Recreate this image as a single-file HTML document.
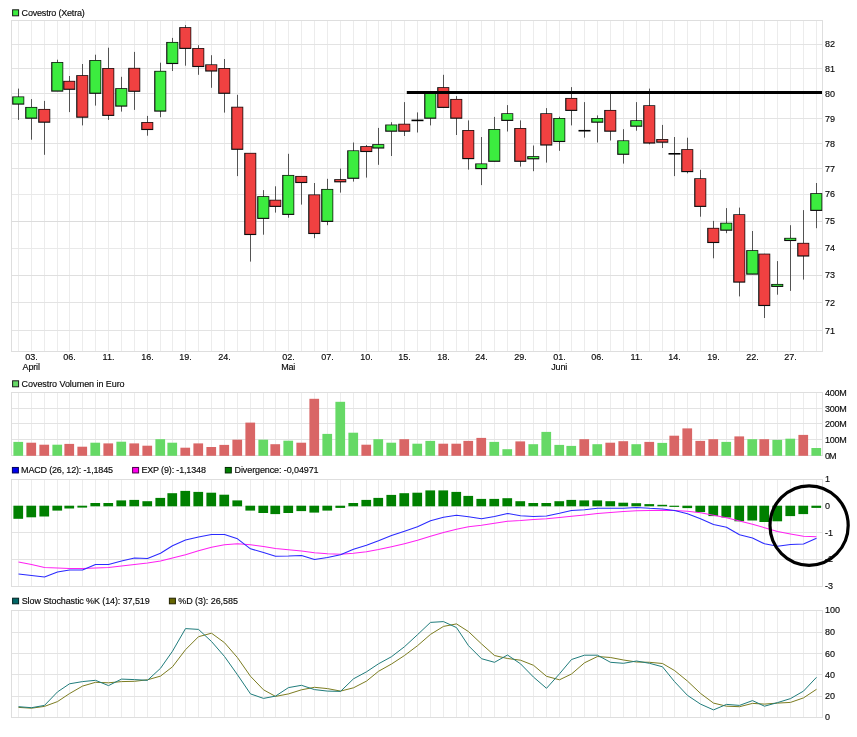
<!DOCTYPE html>
<html lang="de"><head><meta charset="utf-8"><title>Covestro (Xetra) Chart</title>
<style>html,body{margin:0;padding:0;background:#fff}body{width:857px;height:737px;overflow:hidden}svg{display:block}text{stroke:#0a0a0a;stroke-width:0.15px}</style></head>
<body>
<svg width="857" height="737" viewBox="0 0 857 737" font-family="'Liberation Sans', Arial, sans-serif" font-size="9px" fill="#0a0a0a">
<rect width="857" height="737" fill="#fff"/>
<g stroke-width="1" fill="none" shape-rendering="crispEdges">
<g stroke="#ececec">
<line x1="18.5" y1="20.5" x2="18.5" y2="351.5"/>
<line x1="31.5" y1="20.5" x2="31.5" y2="351.5"/>
<line x1="44.5" y1="20.5" x2="44.5" y2="351.5"/>
<line x1="57.5" y1="20.5" x2="57.5" y2="351.5"/>
<line x1="69.5" y1="20.5" x2="69.5" y2="351.5"/>
<line x1="82.5" y1="20.5" x2="82.5" y2="351.5"/>
<line x1="95.5" y1="20.5" x2="95.5" y2="351.5"/>
<line x1="108.5" y1="20.5" x2="108.5" y2="351.5"/>
<line x1="121.5" y1="20.5" x2="121.5" y2="351.5"/>
<line x1="134.5" y1="20.5" x2="134.5" y2="351.5"/>
<line x1="147.5" y1="20.5" x2="147.5" y2="351.5"/>
<line x1="160.5" y1="20.5" x2="160.5" y2="351.5"/>
<line x1="172.5" y1="20.5" x2="172.5" y2="351.5"/>
<line x1="185.5" y1="20.5" x2="185.5" y2="351.5"/>
<line x1="198.5" y1="20.5" x2="198.5" y2="351.5"/>
<line x1="211.5" y1="20.5" x2="211.5" y2="351.5"/>
<line x1="224.5" y1="20.5" x2="224.5" y2="351.5"/>
<line x1="237.5" y1="20.5" x2="237.5" y2="351.5"/>
<line x1="250.5" y1="20.5" x2="250.5" y2="351.5"/>
<line x1="263.5" y1="20.5" x2="263.5" y2="351.5"/>
<line x1="275.5" y1="20.5" x2="275.5" y2="351.5"/>
<line x1="288.5" y1="20.5" x2="288.5" y2="351.5"/>
<line x1="301.5" y1="20.5" x2="301.5" y2="351.5"/>
<line x1="314.5" y1="20.5" x2="314.5" y2="351.5"/>
<line x1="327.5" y1="20.5" x2="327.5" y2="351.5"/>
<line x1="340.5" y1="20.5" x2="340.5" y2="351.5"/>
<line x1="353.5" y1="20.5" x2="353.5" y2="351.5"/>
<line x1="366.5" y1="20.5" x2="366.5" y2="351.5"/>
<line x1="378.5" y1="20.5" x2="378.5" y2="351.5"/>
<line x1="391.5" y1="20.5" x2="391.5" y2="351.5"/>
<line x1="404.5" y1="20.5" x2="404.5" y2="351.5"/>
<line x1="417.5" y1="20.5" x2="417.5" y2="351.5"/>
<line x1="430.5" y1="20.5" x2="430.5" y2="351.5"/>
<line x1="443.5" y1="20.5" x2="443.5" y2="351.5"/>
<line x1="456.5" y1="20.5" x2="456.5" y2="351.5"/>
<line x1="468.5" y1="20.5" x2="468.5" y2="351.5"/>
<line x1="481.5" y1="20.5" x2="481.5" y2="351.5"/>
<line x1="494.5" y1="20.5" x2="494.5" y2="351.5"/>
<line x1="507.5" y1="20.5" x2="507.5" y2="351.5"/>
<line x1="520.5" y1="20.5" x2="520.5" y2="351.5"/>
<line x1="533.5" y1="20.5" x2="533.5" y2="351.5"/>
<line x1="546.5" y1="20.5" x2="546.5" y2="351.5"/>
<line x1="559.5" y1="20.5" x2="559.5" y2="351.5"/>
<line x1="571.5" y1="20.5" x2="571.5" y2="351.5"/>
<line x1="584.5" y1="20.5" x2="584.5" y2="351.5"/>
<line x1="597.5" y1="20.5" x2="597.5" y2="351.5"/>
<line x1="610.5" y1="20.5" x2="610.5" y2="351.5"/>
<line x1="623.5" y1="20.5" x2="623.5" y2="351.5"/>
<line x1="636.5" y1="20.5" x2="636.5" y2="351.5"/>
<line x1="649.5" y1="20.5" x2="649.5" y2="351.5"/>
<line x1="662.5" y1="20.5" x2="662.5" y2="351.5"/>
<line x1="674.5" y1="20.5" x2="674.5" y2="351.5"/>
<line x1="687.5" y1="20.5" x2="687.5" y2="351.5"/>
<line x1="700.5" y1="20.5" x2="700.5" y2="351.5"/>
<line x1="713.5" y1="20.5" x2="713.5" y2="351.5"/>
<line x1="726.5" y1="20.5" x2="726.5" y2="351.5"/>
<line x1="739.5" y1="20.5" x2="739.5" y2="351.5"/>
<line x1="752.5" y1="20.5" x2="752.5" y2="351.5"/>
<line x1="764.5" y1="20.5" x2="764.5" y2="351.5"/>
<line x1="777.5" y1="20.5" x2="777.5" y2="351.5"/>
<line x1="790.5" y1="20.5" x2="790.5" y2="351.5"/>
<line x1="803.5" y1="20.5" x2="803.5" y2="351.5"/>
<line x1="816.5" y1="20.5" x2="816.5" y2="351.5"/>
</g><g stroke="#e3e3e3">
<line x1="12" y1="44.5" x2="822.5" y2="44.5"/>
<line x1="12" y1="68.5" x2="822.5" y2="68.5"/>
<line x1="12" y1="93.5" x2="822.5" y2="93.5"/>
<line x1="12" y1="118.5" x2="822.5" y2="118.5"/>
<line x1="12" y1="143.5" x2="822.5" y2="143.5"/>
<line x1="12" y1="168.5" x2="822.5" y2="168.5"/>
<line x1="12" y1="194.5" x2="822.5" y2="194.5" stroke="#e9e9e9"/>
<line x1="12" y1="221.5" x2="822.5" y2="221.5" stroke="#dcdcdc"/>
<line x1="12" y1="248.5" x2="822.5" y2="248.5" stroke="#e9e9e9"/>
<line x1="12" y1="275.5" x2="822.5" y2="275.5" stroke="#dfdfdf"/>
<line x1="12" y1="302.5" x2="822.5" y2="302.5"/>
<line x1="12" y1="330.5" x2="822.5" y2="330.5"/>
</g>
<rect x="11.5" y="20.5" width="811.0" height="331.0" stroke="#dedede"/>
</g>
<g>
<line x1="18.5" y1="88.6" x2="18.5" y2="119.9" stroke="#545454" stroke-width="1"/>
<rect x="12.20" y="96.45" width="12.05" height="8.20" fill="#0c0c0c"/>
<rect x="13.35" y="97.20" width="10.15" height="6.30" fill="#3cec3f"/>
<line x1="31.5" y1="99.1" x2="31.5" y2="139.7" stroke="#545454" stroke-width="1"/>
<rect x="25.20" y="106.95" width="12.05" height="11.80" fill="#0c0c0c"/>
<rect x="26.35" y="107.70" width="10.15" height="9.90" fill="#3cec3f"/>
<line x1="44.5" y1="100.9" x2="44.5" y2="154.8" stroke="#545454" stroke-width="1"/>
<rect x="38.20" y="108.95" width="12.05" height="13.80" fill="#0c0c0c"/>
<rect x="39.35" y="109.70" width="10.15" height="11.90" fill="#f04141"/>
<line x1="57.5" y1="59.7" x2="57.5" y2="91.1" stroke="#545454" stroke-width="1"/>
<rect x="51.20" y="62.05" width="12.05" height="29.60" fill="#0c0c0c"/>
<rect x="52.35" y="62.80" width="10.15" height="27.70" fill="#3cec3f"/>
<line x1="69.5" y1="76.0" x2="69.5" y2="112.1" stroke="#545454" stroke-width="1"/>
<rect x="63.20" y="80.85" width="12.05" height="9.00" fill="#0c0c0c"/>
<rect x="64.35" y="81.60" width="10.15" height="7.10" fill="#f04141"/>
<line x1="82.5" y1="64.0" x2="82.5" y2="125.4" stroke="#545454" stroke-width="1"/>
<rect x="76.20" y="75.15" width="12.05" height="42.60" fill="#0c0c0c"/>
<rect x="77.35" y="75.90" width="10.15" height="40.70" fill="#f04141"/>
<line x1="95.5" y1="54.7" x2="95.5" y2="105.6" stroke="#545454" stroke-width="1"/>
<rect x="89.20" y="60.05" width="12.05" height="33.80" fill="#0c0c0c"/>
<rect x="90.35" y="60.80" width="10.15" height="31.90" fill="#3cec3f"/>
<line x1="108.5" y1="47.7" x2="108.5" y2="119.9" stroke="#545454" stroke-width="1"/>
<rect x="102.20" y="68.05" width="12.05" height="47.90" fill="#0c0c0c"/>
<rect x="103.35" y="68.80" width="10.15" height="46.00" fill="#f04141"/>
<line x1="121.5" y1="76.8" x2="121.5" y2="111.6" stroke="#545454" stroke-width="1"/>
<rect x="115.20" y="88.15" width="12.05" height="18.50" fill="#0c0c0c"/>
<rect x="116.35" y="88.90" width="10.15" height="16.60" fill="#3cec3f"/>
<line x1="134.5" y1="51.9" x2="134.5" y2="109.9" stroke="#545454" stroke-width="1"/>
<rect x="128.20" y="67.85" width="12.05" height="24.00" fill="#0c0c0c"/>
<rect x="129.35" y="68.60" width="10.15" height="22.10" fill="#f04141"/>
<line x1="147.5" y1="115.9" x2="147.5" y2="135.7" stroke="#545454" stroke-width="1"/>
<rect x="141.20" y="122.05" width="12.05" height="8.00" fill="#0c0c0c"/>
<rect x="142.35" y="122.80" width="10.15" height="6.10" fill="#f04141"/>
<line x1="160.5" y1="62.7" x2="160.5" y2="117.2" stroke="#545454" stroke-width="1"/>
<rect x="154.20" y="70.85" width="12.05" height="40.80" fill="#0c0c0c"/>
<rect x="155.35" y="71.60" width="10.15" height="38.90" fill="#3cec3f"/>
<line x1="172.5" y1="37.9" x2="172.5" y2="71.0" stroke="#545454" stroke-width="1"/>
<rect x="166.20" y="41.95" width="12.05" height="22.10" fill="#0c0c0c"/>
<rect x="167.35" y="42.70" width="10.15" height="20.20" fill="#3cec3f"/>
<line x1="185.5" y1="25.1" x2="185.5" y2="65.7" stroke="#545454" stroke-width="1"/>
<rect x="179.20" y="27.15" width="12.05" height="21.80" fill="#0c0c0c"/>
<rect x="180.35" y="27.90" width="10.15" height="19.90" fill="#f04141"/>
<line x1="198.5" y1="45.2" x2="198.5" y2="74.8" stroke="#545454" stroke-width="1"/>
<rect x="192.20" y="48.05" width="12.05" height="19.00" fill="#0c0c0c"/>
<rect x="193.35" y="48.80" width="10.15" height="17.10" fill="#f04141"/>
<line x1="211.5" y1="55.2" x2="211.5" y2="87.8" stroke="#545454" stroke-width="1"/>
<rect x="205.20" y="64.35" width="12.05" height="7.20" fill="#0c0c0c"/>
<rect x="206.35" y="65.10" width="10.15" height="5.30" fill="#f04141"/>
<line x1="224.5" y1="59.0" x2="224.5" y2="112.6" stroke="#545454" stroke-width="1"/>
<rect x="218.20" y="68.05" width="12.05" height="25.80" fill="#0c0c0c"/>
<rect x="219.35" y="68.80" width="10.15" height="23.90" fill="#f04141"/>
<line x1="237.5" y1="94.8" x2="237.5" y2="176.1" stroke="#545454" stroke-width="1"/>
<rect x="231.20" y="106.75" width="12.05" height="43.10" fill="#0c0c0c"/>
<rect x="232.35" y="107.50" width="10.15" height="41.20" fill="#f04141"/>
<line x1="250.5" y1="153.0" x2="250.5" y2="261.6" stroke="#545454" stroke-width="1"/>
<rect x="244.20" y="152.85" width="12.05" height="82.20" fill="#0c0c0c"/>
<rect x="245.35" y="153.60" width="10.15" height="80.30" fill="#f04141"/>
<line x1="263.5" y1="190.1" x2="263.5" y2="234.7" stroke="#545454" stroke-width="1"/>
<rect x="257.20" y="196.15" width="12.05" height="22.80" fill="#0c0c0c"/>
<rect x="258.35" y="196.90" width="10.15" height="20.90" fill="#3cec3f"/>
<line x1="275.5" y1="186.3" x2="275.5" y2="212.6" stroke="#545454" stroke-width="1"/>
<rect x="269.20" y="199.75" width="12.05" height="7.20" fill="#0c0c0c"/>
<rect x="270.35" y="200.50" width="10.15" height="5.30" fill="#f04141"/>
<line x1="288.5" y1="153.8" x2="288.5" y2="217.7" stroke="#545454" stroke-width="1"/>
<rect x="282.20" y="174.95" width="12.05" height="40.00" fill="#0c0c0c"/>
<rect x="283.35" y="175.70" width="10.15" height="38.10" fill="#3cec3f"/>
<line x1="301.5" y1="176.1" x2="301.5" y2="204.6" stroke="#545454" stroke-width="1"/>
<rect x="295.20" y="175.95" width="12.05" height="7.10" fill="#0c0c0c"/>
<rect x="296.35" y="176.70" width="10.15" height="5.20" fill="#f04141"/>
<line x1="314.5" y1="183.0" x2="314.5" y2="238.2" stroke="#545454" stroke-width="1"/>
<rect x="308.20" y="194.45" width="12.05" height="39.60" fill="#0c0c0c"/>
<rect x="309.35" y="195.20" width="10.15" height="37.70" fill="#f04141"/>
<line x1="327.5" y1="178.8" x2="327.5" y2="225.2" stroke="#545454" stroke-width="1"/>
<rect x="321.20" y="188.95" width="12.05" height="33.00" fill="#0c0c0c"/>
<rect x="322.35" y="189.70" width="10.15" height="31.10" fill="#3cec3f"/>
<line x1="340.5" y1="168.6" x2="340.5" y2="192.6" stroke="#545454" stroke-width="1"/>
<rect x="334.20" y="179.15" width="12.05" height="3.20" fill="#0c0c0c"/>
<rect x="335.35" y="179.90" width="10.15" height="1.30" fill="#f04141"/>
<line x1="353.5" y1="142.5" x2="353.5" y2="181.6" stroke="#545454" stroke-width="1"/>
<rect x="347.20" y="150.35" width="12.05" height="28.50" fill="#0c0c0c"/>
<rect x="348.35" y="151.10" width="10.15" height="26.60" fill="#3cec3f"/>
<line x1="366.5" y1="145.0" x2="366.5" y2="177.6" stroke="#545454" stroke-width="1"/>
<rect x="360.20" y="146.15" width="12.05" height="5.90" fill="#0c0c0c"/>
<rect x="361.35" y="146.90" width="10.15" height="4.00" fill="#f04141"/>
<line x1="378.5" y1="127.9" x2="378.5" y2="164.8" stroke="#545454" stroke-width="1"/>
<rect x="372.20" y="144.15" width="12.05" height="4.40" fill="#0c0c0c"/>
<rect x="373.35" y="144.90" width="10.15" height="2.50" fill="#3cec3f"/>
<line x1="391.5" y1="122.2" x2="391.5" y2="156.0" stroke="#545454" stroke-width="1"/>
<rect x="385.20" y="124.55" width="12.05" height="7.20" fill="#0c0c0c"/>
<rect x="386.35" y="125.30" width="10.15" height="5.30" fill="#3cec3f"/>
<line x1="404.5" y1="102.1" x2="404.5" y2="136.0" stroke="#545454" stroke-width="1"/>
<rect x="398.20" y="123.75" width="12.05" height="8.00" fill="#0c0c0c"/>
<rect x="399.35" y="124.50" width="10.15" height="6.10" fill="#f04141"/>
<line x1="417.5" y1="112.4" x2="417.5" y2="132.5" stroke="#545454" stroke-width="1"/>
<line x1="411.5" y1="120.4" x2="423.5" y2="120.4" stroke="#000" stroke-width="1.6"/>
<line x1="430.5" y1="92.5" x2="430.5" y2="125.4" stroke="#545454" stroke-width="1"/>
<rect x="424.20" y="92.35" width="12.05" height="26.40" fill="#0c0c0c"/>
<rect x="425.35" y="93.10" width="10.15" height="24.50" fill="#3cec3f"/>
<line x1="443.5" y1="74.8" x2="443.5" y2="107.4" stroke="#545454" stroke-width="1"/>
<rect x="437.20" y="87.15" width="12.05" height="20.80" fill="#0c0c0c"/>
<rect x="438.35" y="87.90" width="10.15" height="18.90" fill="#f04141"/>
<line x1="456.5" y1="96.1" x2="456.5" y2="135.0" stroke="#545454" stroke-width="1"/>
<rect x="450.20" y="98.95" width="12.05" height="19.80" fill="#0c0c0c"/>
<rect x="451.35" y="99.70" width="10.15" height="17.90" fill="#f04141"/>
<line x1="468.5" y1="120.4" x2="468.5" y2="169.6" stroke="#545454" stroke-width="1"/>
<rect x="462.20" y="130.05" width="12.05" height="29.10" fill="#0c0c0c"/>
<rect x="463.35" y="130.80" width="10.15" height="27.20" fill="#f04141"/>
<line x1="481.5" y1="137.0" x2="481.5" y2="185.1" stroke="#545454" stroke-width="1"/>
<rect x="475.20" y="163.45" width="12.05" height="5.70" fill="#0c0c0c"/>
<rect x="476.35" y="164.20" width="10.15" height="3.80" fill="#3cec3f"/>
<line x1="494.5" y1="116.9" x2="494.5" y2="161.3" stroke="#545454" stroke-width="1"/>
<rect x="488.20" y="129.05" width="12.05" height="32.80" fill="#0c0c0c"/>
<rect x="489.35" y="129.80" width="10.15" height="30.90" fill="#3cec3f"/>
<line x1="507.5" y1="105.1" x2="507.5" y2="131.5" stroke="#545454" stroke-width="1"/>
<rect x="501.20" y="113.25" width="12.05" height="7.70" fill="#0c0c0c"/>
<rect x="502.35" y="114.00" width="10.15" height="5.80" fill="#3cec3f"/>
<line x1="520.5" y1="120.4" x2="520.5" y2="166.6" stroke="#545454" stroke-width="1"/>
<rect x="514.20" y="128.05" width="12.05" height="33.80" fill="#0c0c0c"/>
<rect x="515.35" y="128.80" width="10.15" height="31.90" fill="#f04141"/>
<line x1="533.5" y1="145.5" x2="533.5" y2="171.2" stroke="#545454" stroke-width="1"/>
<rect x="527.20" y="156.15" width="12.05" height="3.20" fill="#0c0c0c"/>
<rect x="528.35" y="156.90" width="10.15" height="1.30" fill="#3cec3f"/>
<line x1="546.5" y1="108.1" x2="546.5" y2="162.6" stroke="#545454" stroke-width="1"/>
<rect x="540.20" y="113.25" width="12.05" height="32.30" fill="#0c0c0c"/>
<rect x="541.35" y="114.00" width="10.15" height="30.40" fill="#f04141"/>
<line x1="559.5" y1="116.7" x2="559.5" y2="150.8" stroke="#545454" stroke-width="1"/>
<rect x="553.20" y="118.05" width="12.05" height="24.00" fill="#0c0c0c"/>
<rect x="554.35" y="118.80" width="10.15" height="22.10" fill="#3cec3f"/>
<line x1="571.5" y1="87.1" x2="571.5" y2="125.4" stroke="#545454" stroke-width="1"/>
<rect x="565.20" y="97.95" width="12.05" height="13.00" fill="#0c0c0c"/>
<rect x="566.35" y="98.70" width="10.15" height="11.10" fill="#f04141"/>
<line x1="584.5" y1="102.1" x2="584.5" y2="137.7" stroke="#545454" stroke-width="1"/>
<line x1="578.5" y1="130.7" x2="590.5" y2="130.7" stroke="#000" stroke-width="1.6"/>
<line x1="597.5" y1="115.4" x2="597.5" y2="142.5" stroke="#545454" stroke-width="1"/>
<rect x="591.20" y="118.05" width="12.05" height="4.70" fill="#0c0c0c"/>
<rect x="592.35" y="118.80" width="10.15" height="2.80" fill="#3cec3f"/>
<line x1="610.5" y1="93.0" x2="610.5" y2="140.5" stroke="#545454" stroke-width="1"/>
<rect x="604.20" y="109.95" width="12.05" height="21.80" fill="#0c0c0c"/>
<rect x="605.35" y="110.70" width="10.15" height="19.90" fill="#f04141"/>
<line x1="623.5" y1="129.2" x2="623.5" y2="163.6" stroke="#545454" stroke-width="1"/>
<rect x="617.20" y="140.35" width="12.05" height="14.50" fill="#0c0c0c"/>
<rect x="618.35" y="141.10" width="10.15" height="12.60" fill="#3cec3f"/>
<line x1="636.5" y1="102.1" x2="636.5" y2="130.7" stroke="#545454" stroke-width="1"/>
<rect x="630.20" y="120.25" width="12.05" height="6.50" fill="#0c0c0c"/>
<rect x="631.35" y="121.00" width="10.15" height="4.60" fill="#3cec3f"/>
<line x1="649.5" y1="88.6" x2="649.5" y2="144.3" stroke="#545454" stroke-width="1"/>
<rect x="643.20" y="105.25" width="12.05" height="38.30" fill="#0c0c0c"/>
<rect x="644.35" y="106.00" width="10.15" height="36.40" fill="#f04141"/>
<line x1="662.5" y1="124.9" x2="662.5" y2="148.0" stroke="#545454" stroke-width="1"/>
<rect x="656.20" y="139.05" width="12.05" height="3.70" fill="#0c0c0c"/>
<rect x="657.35" y="139.80" width="10.15" height="1.80" fill="#f04141"/>
<line x1="674.5" y1="137.0" x2="674.5" y2="176.1" stroke="#545454" stroke-width="1"/>
<line x1="668.5" y1="153.8" x2="680.5" y2="153.8" stroke="#000" stroke-width="1.6"/>
<line x1="687.5" y1="137.7" x2="687.5" y2="173.4" stroke="#545454" stroke-width="1"/>
<rect x="681.20" y="149.15" width="12.05" height="23.00" fill="#0c0c0c"/>
<rect x="682.35" y="149.90" width="10.15" height="21.10" fill="#f04141"/>
<line x1="700.5" y1="169.8" x2="700.5" y2="216.7" stroke="#545454" stroke-width="1"/>
<rect x="694.20" y="178.25" width="12.05" height="28.70" fill="#0c0c0c"/>
<rect x="695.35" y="179.00" width="10.15" height="26.80" fill="#f04141"/>
<line x1="713.5" y1="220.9" x2="713.5" y2="258.3" stroke="#545454" stroke-width="1"/>
<rect x="707.20" y="227.85" width="12.05" height="15.20" fill="#0c0c0c"/>
<rect x="708.35" y="228.60" width="10.15" height="13.30" fill="#f04141"/>
<line x1="726.5" y1="208.1" x2="726.5" y2="233.2" stroke="#545454" stroke-width="1"/>
<rect x="720.20" y="222.75" width="12.05" height="8.00" fill="#0c0c0c"/>
<rect x="721.35" y="223.50" width="10.15" height="6.10" fill="#3cec3f"/>
<line x1="739.5" y1="207.6" x2="739.5" y2="296.4" stroke="#545454" stroke-width="1"/>
<rect x="733.20" y="214.25" width="12.05" height="68.40" fill="#0c0c0c"/>
<rect x="734.35" y="215.00" width="10.15" height="66.50" fill="#f04141"/>
<line x1="752.5" y1="231.0" x2="752.5" y2="274.1" stroke="#545454" stroke-width="1"/>
<rect x="746.20" y="250.15" width="12.05" height="24.50" fill="#0c0c0c"/>
<rect x="747.35" y="250.90" width="10.15" height="22.60" fill="#3cec3f"/>
<line x1="764.5" y1="253.8" x2="764.5" y2="318.0" stroke="#545454" stroke-width="1"/>
<rect x="758.20" y="253.65" width="12.05" height="52.40" fill="#0c0c0c"/>
<rect x="759.35" y="254.40" width="10.15" height="50.50" fill="#f04141"/>
<line x1="777.5" y1="261.1" x2="777.5" y2="294.7" stroke="#545454" stroke-width="1"/>
<rect x="771.20" y="283.95" width="12.05" height="3.00" fill="#0c0c0c"/>
<rect x="772.35" y="284.70" width="10.15" height="1.10" fill="#3cec3f"/>
<line x1="790.5" y1="225.2" x2="790.5" y2="290.9" stroke="#545454" stroke-width="1"/>
<rect x="784.20" y="237.85" width="12.05" height="3.20" fill="#0c0c0c"/>
<rect x="785.35" y="238.60" width="10.15" height="1.30" fill="#3cec3f"/>
<line x1="803.5" y1="210.1" x2="803.5" y2="279.6" stroke="#545454" stroke-width="1"/>
<rect x="797.20" y="242.85" width="12.05" height="13.70" fill="#0c0c0c"/>
<rect x="798.35" y="243.60" width="10.15" height="11.80" fill="#f04141"/>
<line x1="816.5" y1="183.0" x2="816.5" y2="228.2" stroke="#545454" stroke-width="1"/>
<rect x="810.20" y="193.15" width="12.05" height="17.80" fill="#0c0c0c"/>
<rect x="811.35" y="193.90" width="10.15" height="15.90" fill="#3cec3f"/>
</g>
<line x1="406.8" y1="92.5" x2="822" y2="92.5" stroke="#000" stroke-width="3.1"/>
<g stroke-width="1" fill="none" shape-rendering="crispEdges">
<g stroke="#ececec">
<line x1="18.5" y1="392.5" x2="18.5" y2="455.5"/>
<line x1="31.5" y1="392.5" x2="31.5" y2="455.5"/>
<line x1="44.5" y1="392.5" x2="44.5" y2="455.5"/>
<line x1="57.5" y1="392.5" x2="57.5" y2="455.5"/>
<line x1="69.5" y1="392.5" x2="69.5" y2="455.5"/>
<line x1="82.5" y1="392.5" x2="82.5" y2="455.5"/>
<line x1="95.5" y1="392.5" x2="95.5" y2="455.5"/>
<line x1="108.5" y1="392.5" x2="108.5" y2="455.5"/>
<line x1="121.5" y1="392.5" x2="121.5" y2="455.5"/>
<line x1="134.5" y1="392.5" x2="134.5" y2="455.5"/>
<line x1="147.5" y1="392.5" x2="147.5" y2="455.5"/>
<line x1="160.5" y1="392.5" x2="160.5" y2="455.5"/>
<line x1="172.5" y1="392.5" x2="172.5" y2="455.5"/>
<line x1="185.5" y1="392.5" x2="185.5" y2="455.5"/>
<line x1="198.5" y1="392.5" x2="198.5" y2="455.5"/>
<line x1="211.5" y1="392.5" x2="211.5" y2="455.5"/>
<line x1="224.5" y1="392.5" x2="224.5" y2="455.5"/>
<line x1="237.5" y1="392.5" x2="237.5" y2="455.5"/>
<line x1="250.5" y1="392.5" x2="250.5" y2="455.5"/>
<line x1="263.5" y1="392.5" x2="263.5" y2="455.5"/>
<line x1="275.5" y1="392.5" x2="275.5" y2="455.5"/>
<line x1="288.5" y1="392.5" x2="288.5" y2="455.5"/>
<line x1="301.5" y1="392.5" x2="301.5" y2="455.5"/>
<line x1="314.5" y1="392.5" x2="314.5" y2="455.5"/>
<line x1="327.5" y1="392.5" x2="327.5" y2="455.5"/>
<line x1="340.5" y1="392.5" x2="340.5" y2="455.5"/>
<line x1="353.5" y1="392.5" x2="353.5" y2="455.5"/>
<line x1="366.5" y1="392.5" x2="366.5" y2="455.5"/>
<line x1="378.5" y1="392.5" x2="378.5" y2="455.5"/>
<line x1="391.5" y1="392.5" x2="391.5" y2="455.5"/>
<line x1="404.5" y1="392.5" x2="404.5" y2="455.5"/>
<line x1="417.5" y1="392.5" x2="417.5" y2="455.5"/>
<line x1="430.5" y1="392.5" x2="430.5" y2="455.5"/>
<line x1="443.5" y1="392.5" x2="443.5" y2="455.5"/>
<line x1="456.5" y1="392.5" x2="456.5" y2="455.5"/>
<line x1="468.5" y1="392.5" x2="468.5" y2="455.5"/>
<line x1="481.5" y1="392.5" x2="481.5" y2="455.5"/>
<line x1="494.5" y1="392.5" x2="494.5" y2="455.5"/>
<line x1="507.5" y1="392.5" x2="507.5" y2="455.5"/>
<line x1="520.5" y1="392.5" x2="520.5" y2="455.5"/>
<line x1="533.5" y1="392.5" x2="533.5" y2="455.5"/>
<line x1="546.5" y1="392.5" x2="546.5" y2="455.5"/>
<line x1="559.5" y1="392.5" x2="559.5" y2="455.5"/>
<line x1="571.5" y1="392.5" x2="571.5" y2="455.5"/>
<line x1="584.5" y1="392.5" x2="584.5" y2="455.5"/>
<line x1="597.5" y1="392.5" x2="597.5" y2="455.5"/>
<line x1="610.5" y1="392.5" x2="610.5" y2="455.5"/>
<line x1="623.5" y1="392.5" x2="623.5" y2="455.5"/>
<line x1="636.5" y1="392.5" x2="636.5" y2="455.5"/>
<line x1="649.5" y1="392.5" x2="649.5" y2="455.5"/>
<line x1="662.5" y1="392.5" x2="662.5" y2="455.5"/>
<line x1="674.5" y1="392.5" x2="674.5" y2="455.5"/>
<line x1="687.5" y1="392.5" x2="687.5" y2="455.5"/>
<line x1="700.5" y1="392.5" x2="700.5" y2="455.5"/>
<line x1="713.5" y1="392.5" x2="713.5" y2="455.5"/>
<line x1="726.5" y1="392.5" x2="726.5" y2="455.5"/>
<line x1="739.5" y1="392.5" x2="739.5" y2="455.5"/>
<line x1="752.5" y1="392.5" x2="752.5" y2="455.5"/>
<line x1="764.5" y1="392.5" x2="764.5" y2="455.5"/>
<line x1="777.5" y1="392.5" x2="777.5" y2="455.5"/>
<line x1="790.5" y1="392.5" x2="790.5" y2="455.5"/>
<line x1="803.5" y1="392.5" x2="803.5" y2="455.5"/>
<line x1="816.5" y1="392.5" x2="816.5" y2="455.5"/>
</g><g stroke="#e3e3e3">
<line x1="12" y1="408.5" x2="822.5" y2="408.5"/>
<line x1="12" y1="423.5" x2="822.5" y2="423.5"/>
<line x1="12" y1="439.5" x2="822.5" y2="439.5"/>
</g>
<rect x="11.5" y="392.5" width="811.0" height="63.0" stroke="#dedede"/>
</g>
<rect x="13.4" y="441.9" width="9.7" height="13.9" fill="#66d966"/>
<rect x="26.4" y="442.7" width="9.7" height="13.1" fill="#d96666"/>
<rect x="39.4" y="444.7" width="9.7" height="11.1" fill="#d96666"/>
<rect x="52.4" y="444.7" width="9.7" height="11.1" fill="#66d966"/>
<rect x="64.4" y="443.9" width="9.7" height="11.9" fill="#d96666"/>
<rect x="77.4" y="446.7" width="9.7" height="9.1" fill="#d96666"/>
<rect x="90.4" y="442.7" width="9.7" height="13.1" fill="#66d966"/>
<rect x="103.4" y="443.4" width="9.7" height="12.4" fill="#d96666"/>
<rect x="116.4" y="441.7" width="9.7" height="14.1" fill="#66d966"/>
<rect x="129.4" y="443.4" width="9.7" height="12.4" fill="#d96666"/>
<rect x="142.4" y="445.7" width="9.7" height="10.1" fill="#d96666"/>
<rect x="155.4" y="439.2" width="9.7" height="16.6" fill="#66d966"/>
<rect x="167.4" y="442.7" width="9.7" height="13.1" fill="#66d966"/>
<rect x="180.4" y="447.7" width="9.7" height="8.1" fill="#d96666"/>
<rect x="193.4" y="443.4" width="9.7" height="12.4" fill="#d96666"/>
<rect x="206.4" y="447.0" width="9.7" height="8.8" fill="#d96666"/>
<rect x="219.4" y="444.9" width="9.7" height="10.9" fill="#d96666"/>
<rect x="232.4" y="439.7" width="9.7" height="16.1" fill="#d96666"/>
<rect x="245.4" y="422.6" width="9.7" height="33.2" fill="#d96666"/>
<rect x="258.4" y="439.7" width="9.7" height="16.1" fill="#66d966"/>
<rect x="270.4" y="444.2" width="9.7" height="11.6" fill="#d96666"/>
<rect x="283.4" y="440.7" width="9.7" height="15.1" fill="#66d966"/>
<rect x="296.4" y="442.7" width="9.7" height="13.1" fill="#d96666"/>
<rect x="309.4" y="398.8" width="9.7" height="57.0" fill="#d96666"/>
<rect x="322.4" y="433.9" width="9.7" height="21.9" fill="#66d966"/>
<rect x="335.4" y="401.8" width="9.7" height="54.0" fill="#66d966"/>
<rect x="348.4" y="432.7" width="9.7" height="23.1" fill="#66d966"/>
<rect x="361.4" y="444.7" width="9.7" height="11.1" fill="#d96666"/>
<rect x="373.4" y="439.2" width="9.7" height="16.6" fill="#66d966"/>
<rect x="386.4" y="442.7" width="9.7" height="13.1" fill="#66d966"/>
<rect x="399.4" y="439.2" width="9.7" height="16.6" fill="#d96666"/>
<rect x="412.4" y="443.7" width="9.7" height="12.1" fill="#66d966"/>
<rect x="425.4" y="440.9" width="9.7" height="14.9" fill="#66d966"/>
<rect x="438.4" y="443.7" width="9.7" height="12.1" fill="#d96666"/>
<rect x="451.4" y="443.7" width="9.7" height="12.1" fill="#d96666"/>
<rect x="463.4" y="440.9" width="9.7" height="14.9" fill="#d96666"/>
<rect x="476.4" y="437.9" width="9.7" height="17.9" fill="#d96666"/>
<rect x="489.4" y="441.9" width="9.7" height="13.9" fill="#66d966"/>
<rect x="502.4" y="449.2" width="9.7" height="6.6" fill="#66d966"/>
<rect x="515.4" y="441.4" width="9.7" height="14.4" fill="#d96666"/>
<rect x="528.4" y="444.2" width="9.7" height="11.6" fill="#66d966"/>
<rect x="541.4" y="431.9" width="9.7" height="23.9" fill="#66d966"/>
<rect x="554.4" y="444.9" width="9.7" height="10.9" fill="#66d966"/>
<rect x="566.4" y="445.9" width="9.7" height="9.9" fill="#66d966"/>
<rect x="579.4" y="439.2" width="9.7" height="16.6" fill="#d96666"/>
<rect x="592.4" y="444.2" width="9.7" height="11.6" fill="#66d966"/>
<rect x="605.4" y="442.7" width="9.7" height="13.1" fill="#d96666"/>
<rect x="618.4" y="441.2" width="9.7" height="14.6" fill="#d96666"/>
<rect x="631.4" y="444.2" width="9.7" height="11.6" fill="#66d966"/>
<rect x="644.4" y="441.9" width="9.7" height="13.9" fill="#d96666"/>
<rect x="657.4" y="442.9" width="9.7" height="12.9" fill="#66d966"/>
<rect x="669.4" y="435.7" width="9.7" height="20.1" fill="#d96666"/>
<rect x="682.4" y="428.4" width="9.7" height="27.4" fill="#d96666"/>
<rect x="695.4" y="440.9" width="9.7" height="14.9" fill="#d96666"/>
<rect x="708.4" y="439.2" width="9.7" height="16.6" fill="#d96666"/>
<rect x="721.4" y="441.9" width="9.7" height="13.9" fill="#66d966"/>
<rect x="734.4" y="436.4" width="9.7" height="19.4" fill="#d96666"/>
<rect x="747.4" y="439.2" width="9.7" height="16.6" fill="#66d966"/>
<rect x="759.4" y="439.2" width="9.7" height="16.6" fill="#d96666"/>
<rect x="772.4" y="439.9" width="9.7" height="15.9" fill="#66d966"/>
<rect x="785.4" y="438.7" width="9.7" height="17.1" fill="#66d966"/>
<rect x="798.4" y="434.9" width="9.7" height="20.9" fill="#d96666"/>
<rect x="811.4" y="448.0" width="9.7" height="7.8" fill="#66d966"/>
<g stroke-width="1" fill="none" shape-rendering="crispEdges">
<g stroke="#ececec">
<line x1="18.5" y1="479.5" x2="18.5" y2="586.5"/>
<line x1="31.5" y1="479.5" x2="31.5" y2="586.5"/>
<line x1="44.5" y1="479.5" x2="44.5" y2="586.5"/>
<line x1="57.5" y1="479.5" x2="57.5" y2="586.5"/>
<line x1="69.5" y1="479.5" x2="69.5" y2="586.5"/>
<line x1="82.5" y1="479.5" x2="82.5" y2="586.5"/>
<line x1="95.5" y1="479.5" x2="95.5" y2="586.5"/>
<line x1="108.5" y1="479.5" x2="108.5" y2="586.5"/>
<line x1="121.5" y1="479.5" x2="121.5" y2="586.5"/>
<line x1="134.5" y1="479.5" x2="134.5" y2="586.5"/>
<line x1="147.5" y1="479.5" x2="147.5" y2="586.5"/>
<line x1="160.5" y1="479.5" x2="160.5" y2="586.5"/>
<line x1="172.5" y1="479.5" x2="172.5" y2="586.5"/>
<line x1="185.5" y1="479.5" x2="185.5" y2="586.5"/>
<line x1="198.5" y1="479.5" x2="198.5" y2="586.5"/>
<line x1="211.5" y1="479.5" x2="211.5" y2="586.5"/>
<line x1="224.5" y1="479.5" x2="224.5" y2="586.5"/>
<line x1="237.5" y1="479.5" x2="237.5" y2="586.5"/>
<line x1="250.5" y1="479.5" x2="250.5" y2="586.5"/>
<line x1="263.5" y1="479.5" x2="263.5" y2="586.5"/>
<line x1="275.5" y1="479.5" x2="275.5" y2="586.5"/>
<line x1="288.5" y1="479.5" x2="288.5" y2="586.5"/>
<line x1="301.5" y1="479.5" x2="301.5" y2="586.5"/>
<line x1="314.5" y1="479.5" x2="314.5" y2="586.5"/>
<line x1="327.5" y1="479.5" x2="327.5" y2="586.5"/>
<line x1="340.5" y1="479.5" x2="340.5" y2="586.5"/>
<line x1="353.5" y1="479.5" x2="353.5" y2="586.5"/>
<line x1="366.5" y1="479.5" x2="366.5" y2="586.5"/>
<line x1="378.5" y1="479.5" x2="378.5" y2="586.5"/>
<line x1="391.5" y1="479.5" x2="391.5" y2="586.5"/>
<line x1="404.5" y1="479.5" x2="404.5" y2="586.5"/>
<line x1="417.5" y1="479.5" x2="417.5" y2="586.5"/>
<line x1="430.5" y1="479.5" x2="430.5" y2="586.5"/>
<line x1="443.5" y1="479.5" x2="443.5" y2="586.5"/>
<line x1="456.5" y1="479.5" x2="456.5" y2="586.5"/>
<line x1="468.5" y1="479.5" x2="468.5" y2="586.5"/>
<line x1="481.5" y1="479.5" x2="481.5" y2="586.5"/>
<line x1="494.5" y1="479.5" x2="494.5" y2="586.5"/>
<line x1="507.5" y1="479.5" x2="507.5" y2="586.5"/>
<line x1="520.5" y1="479.5" x2="520.5" y2="586.5"/>
<line x1="533.5" y1="479.5" x2="533.5" y2="586.5"/>
<line x1="546.5" y1="479.5" x2="546.5" y2="586.5"/>
<line x1="559.5" y1="479.5" x2="559.5" y2="586.5"/>
<line x1="571.5" y1="479.5" x2="571.5" y2="586.5"/>
<line x1="584.5" y1="479.5" x2="584.5" y2="586.5"/>
<line x1="597.5" y1="479.5" x2="597.5" y2="586.5"/>
<line x1="610.5" y1="479.5" x2="610.5" y2="586.5"/>
<line x1="623.5" y1="479.5" x2="623.5" y2="586.5"/>
<line x1="636.5" y1="479.5" x2="636.5" y2="586.5"/>
<line x1="649.5" y1="479.5" x2="649.5" y2="586.5"/>
<line x1="662.5" y1="479.5" x2="662.5" y2="586.5"/>
<line x1="674.5" y1="479.5" x2="674.5" y2="586.5"/>
<line x1="687.5" y1="479.5" x2="687.5" y2="586.5"/>
<line x1="700.5" y1="479.5" x2="700.5" y2="586.5"/>
<line x1="713.5" y1="479.5" x2="713.5" y2="586.5"/>
<line x1="726.5" y1="479.5" x2="726.5" y2="586.5"/>
<line x1="739.5" y1="479.5" x2="739.5" y2="586.5"/>
<line x1="752.5" y1="479.5" x2="752.5" y2="586.5"/>
<line x1="764.5" y1="479.5" x2="764.5" y2="586.5"/>
<line x1="777.5" y1="479.5" x2="777.5" y2="586.5"/>
<line x1="790.5" y1="479.5" x2="790.5" y2="586.5"/>
<line x1="803.5" y1="479.5" x2="803.5" y2="586.5"/>
<line x1="816.5" y1="479.5" x2="816.5" y2="586.5"/>
</g><g stroke="#e3e3e3">
<line x1="12" y1="506.5" x2="822.5" y2="506.5" stroke="#f3f3f3"/>
<line x1="12" y1="532.5" x2="822.5" y2="532.5"/>
<line x1="12" y1="559.5" x2="822.5" y2="559.5"/>
</g>
<rect x="11.5" y="479.5" width="811.0" height="107.0" stroke="#dedede"/>
</g>
<rect x="13.4" y="505.7" width="9.7" height="13.1" fill="#008000"/>
<rect x="26.4" y="505.7" width="9.7" height="11.6" fill="#008000"/>
<rect x="39.4" y="505.7" width="9.7" height="10.8" fill="#008000"/>
<rect x="52.4" y="505.7" width="9.7" height="4.9" fill="#008000"/>
<rect x="64.4" y="505.7" width="9.7" height="2.8" fill="#008000"/>
<rect x="77.4" y="505.7" width="9.7" height="1.9" fill="#008000"/>
<rect x="90.4" y="503.0" width="9.7" height="3.3" fill="#008000"/>
<rect x="103.4" y="503.0" width="9.7" height="3.3" fill="#008000"/>
<rect x="116.4" y="500.4" width="9.7" height="5.9" fill="#008000"/>
<rect x="129.4" y="499.9" width="9.7" height="6.4" fill="#008000"/>
<rect x="142.4" y="501.2" width="9.7" height="5.1" fill="#008000"/>
<rect x="155.4" y="497.9" width="9.7" height="8.4" fill="#008000"/>
<rect x="167.4" y="493.2" width="9.7" height="13.1" fill="#008000"/>
<rect x="180.4" y="490.9" width="9.7" height="15.4" fill="#008000"/>
<rect x="193.4" y="491.9" width="9.7" height="14.4" fill="#008000"/>
<rect x="206.4" y="492.7" width="9.7" height="13.6" fill="#008000"/>
<rect x="219.4" y="494.7" width="9.7" height="11.6" fill="#008000"/>
<rect x="232.4" y="500.4" width="9.7" height="5.9" fill="#008000"/>
<rect x="245.4" y="505.7" width="9.7" height="4.9" fill="#008000"/>
<rect x="258.4" y="505.7" width="9.7" height="7.3" fill="#008000"/>
<rect x="270.4" y="505.7" width="9.7" height="8.4" fill="#008000"/>
<rect x="283.4" y="505.7" width="9.7" height="7.3" fill="#008000"/>
<rect x="296.4" y="505.7" width="9.7" height="5.4" fill="#008000"/>
<rect x="309.4" y="505.7" width="9.7" height="6.9" fill="#008000"/>
<rect x="322.4" y="505.7" width="9.7" height="4.9" fill="#008000"/>
<rect x="335.4" y="505.7" width="9.7" height="2.2" fill="#008000"/>
<rect x="348.4" y="503.0" width="9.7" height="3.3" fill="#008000"/>
<rect x="361.4" y="499.9" width="9.7" height="6.4" fill="#008000"/>
<rect x="373.4" y="497.9" width="9.7" height="8.4" fill="#008000"/>
<rect x="386.4" y="494.9" width="9.7" height="11.4" fill="#008000"/>
<rect x="399.4" y="493.2" width="9.7" height="13.1" fill="#008000"/>
<rect x="412.4" y="492.7" width="9.7" height="13.6" fill="#008000"/>
<rect x="425.4" y="490.4" width="9.7" height="15.9" fill="#008000"/>
<rect x="438.4" y="490.4" width="9.7" height="15.9" fill="#008000"/>
<rect x="451.4" y="491.9" width="9.7" height="14.4" fill="#008000"/>
<rect x="463.4" y="495.9" width="9.7" height="10.4" fill="#008000"/>
<rect x="476.4" y="498.9" width="9.7" height="7.4" fill="#008000"/>
<rect x="489.4" y="498.9" width="9.7" height="7.4" fill="#008000"/>
<rect x="502.4" y="498.2" width="9.7" height="8.1" fill="#008000"/>
<rect x="515.4" y="501.2" width="9.7" height="5.1" fill="#008000"/>
<rect x="528.4" y="503.0" width="9.7" height="3.3" fill="#008000"/>
<rect x="541.4" y="503.0" width="9.7" height="3.3" fill="#008000"/>
<rect x="554.4" y="501.2" width="9.7" height="5.1" fill="#008000"/>
<rect x="566.4" y="499.9" width="9.7" height="6.4" fill="#008000"/>
<rect x="579.4" y="500.4" width="9.7" height="5.9" fill="#008000"/>
<rect x="592.4" y="500.4" width="9.7" height="5.9" fill="#008000"/>
<rect x="605.4" y="501.2" width="9.7" height="5.1" fill="#008000"/>
<rect x="618.4" y="502.7" width="9.7" height="3.6" fill="#008000"/>
<rect x="631.4" y="503.2" width="9.7" height="3.1" fill="#008000"/>
<rect x="644.4" y="504.1" width="9.7" height="2.2" fill="#008000"/>
<rect x="657.4" y="504.8" width="9.7" height="1.5" fill="#008000"/>
<rect x="669.4" y="505.7" width="9.7" height="1.2" fill="#008000"/>
<rect x="682.4" y="505.7" width="9.7" height="2.4" fill="#008000"/>
<rect x="695.4" y="505.7" width="9.7" height="6.4" fill="#008000"/>
<rect x="708.4" y="505.7" width="9.7" height="10.4" fill="#008000"/>
<rect x="721.4" y="505.7" width="9.7" height="11.8" fill="#008000"/>
<rect x="734.4" y="505.7" width="9.7" height="15.6" fill="#008000"/>
<rect x="747.4" y="505.7" width="9.7" height="14.8" fill="#008000"/>
<rect x="759.4" y="505.7" width="9.7" height="16.3" fill="#008000"/>
<rect x="772.4" y="505.7" width="9.7" height="15.6" fill="#008000"/>
<rect x="785.4" y="505.7" width="9.7" height="10.4" fill="#008000"/>
<rect x="798.4" y="505.7" width="9.7" height="8.4" fill="#008000"/>
<rect x="811.4" y="505.7" width="9.7" height="2.2" fill="#008000"/>
<polyline points="18.5,561.9 31.5,564.4 44.5,567.4 57.5,567.9 69.5,568.4 82.5,568.6 95.5,567.9 108.5,567.4 121.5,565.9 134.5,564.4 147.5,563.1 160.5,561.1 172.5,558.1 185.5,554.8 198.5,550.8 211.5,547.3 224.5,544.8 237.5,543.8 250.5,544.8 263.5,546.6 275.5,548.6 288.5,549.8 301.5,551.1 314.5,552.8 327.5,553.8 340.5,554.3 353.5,553.3 366.5,551.8 378.5,549.6 391.5,546.8 404.5,543.7 417.5,540.3 430.5,536.3 443.5,532.5 456.5,529.2 468.5,526.7 481.5,525.2 494.5,523.2 507.5,521.2 520.5,520.5 533.5,519.5 546.5,518.7 559.5,517.5 571.5,516.2 584.5,515.0 597.5,513.6 610.5,512.4 623.5,511.4 636.5,510.7 649.5,510.5 662.5,510.2 674.5,510.4 687.5,511.2 700.5,512.7 713.5,515.2 726.5,517.7 739.5,521.0 752.5,524.2 764.5,527.7 777.5,531.5 790.5,534.0 803.5,536.3 816.5,536.8" fill="none" stroke="#ff22f2" stroke-width="1.05" stroke-linejoin="round"/>
<polyline points="18.5,573.9 31.5,575.4 44.5,576.9 57.5,572.1 69.5,569.9 82.5,569.9 95.5,564.4 108.5,564.4 121.5,560.9 134.5,558.1 147.5,558.6 160.5,553.3 172.5,545.8 185.5,540.0 198.5,537.0 211.5,534.5 224.5,534.5 237.5,538.8 250.5,548.8 263.5,552.6 275.5,556.3 288.5,556.1 301.5,555.6 314.5,559.6 327.5,557.6 340.5,554.8 353.5,549.3 366.5,545.3 378.5,540.8 391.5,535.5 404.5,531.2 417.5,526.7 430.5,520.7 443.5,517.2 456.5,515.2 468.5,516.7 481.5,518.7 494.5,516.4 507.5,513.4 520.5,515.7 533.5,516.4 546.5,515.9 559.5,513.2 571.5,510.4 584.5,509.7 597.5,508.2 610.5,508.2 623.5,508.2 636.5,507.4 649.5,508.3 662.5,508.9 674.5,510.5 687.5,513.7 700.5,518.7 713.5,524.5 726.5,527.2 739.5,534.8 752.5,538.0 764.5,543.8 777.5,546.3 790.5,544.5 803.5,544.0 816.5,538.3" fill="none" stroke="#2a2aff" stroke-width="1.05" stroke-linejoin="round"/>
<ellipse cx="809.1" cy="525.6" rx="39.1" ry="39.8" fill="none" stroke="#000" stroke-width="3.2"/>
<g stroke-width="1" fill="none" shape-rendering="crispEdges">
<g stroke="#ececec">
<line x1="18.5" y1="610.5" x2="18.5" y2="717.5"/>
<line x1="31.5" y1="610.5" x2="31.5" y2="717.5"/>
<line x1="44.5" y1="610.5" x2="44.5" y2="717.5"/>
<line x1="57.5" y1="610.5" x2="57.5" y2="717.5"/>
<line x1="69.5" y1="610.5" x2="69.5" y2="717.5"/>
<line x1="82.5" y1="610.5" x2="82.5" y2="717.5"/>
<line x1="95.5" y1="610.5" x2="95.5" y2="717.5"/>
<line x1="108.5" y1="610.5" x2="108.5" y2="717.5"/>
<line x1="121.5" y1="610.5" x2="121.5" y2="717.5"/>
<line x1="134.5" y1="610.5" x2="134.5" y2="717.5"/>
<line x1="147.5" y1="610.5" x2="147.5" y2="717.5"/>
<line x1="160.5" y1="610.5" x2="160.5" y2="717.5"/>
<line x1="172.5" y1="610.5" x2="172.5" y2="717.5"/>
<line x1="185.5" y1="610.5" x2="185.5" y2="717.5"/>
<line x1="198.5" y1="610.5" x2="198.5" y2="717.5"/>
<line x1="211.5" y1="610.5" x2="211.5" y2="717.5"/>
<line x1="224.5" y1="610.5" x2="224.5" y2="717.5"/>
<line x1="237.5" y1="610.5" x2="237.5" y2="717.5"/>
<line x1="250.5" y1="610.5" x2="250.5" y2="717.5"/>
<line x1="263.5" y1="610.5" x2="263.5" y2="717.5"/>
<line x1="275.5" y1="610.5" x2="275.5" y2="717.5"/>
<line x1="288.5" y1="610.5" x2="288.5" y2="717.5"/>
<line x1="301.5" y1="610.5" x2="301.5" y2="717.5"/>
<line x1="314.5" y1="610.5" x2="314.5" y2="717.5"/>
<line x1="327.5" y1="610.5" x2="327.5" y2="717.5"/>
<line x1="340.5" y1="610.5" x2="340.5" y2="717.5"/>
<line x1="353.5" y1="610.5" x2="353.5" y2="717.5"/>
<line x1="366.5" y1="610.5" x2="366.5" y2="717.5"/>
<line x1="378.5" y1="610.5" x2="378.5" y2="717.5"/>
<line x1="391.5" y1="610.5" x2="391.5" y2="717.5"/>
<line x1="404.5" y1="610.5" x2="404.5" y2="717.5"/>
<line x1="417.5" y1="610.5" x2="417.5" y2="717.5"/>
<line x1="430.5" y1="610.5" x2="430.5" y2="717.5"/>
<line x1="443.5" y1="610.5" x2="443.5" y2="717.5"/>
<line x1="456.5" y1="610.5" x2="456.5" y2="717.5"/>
<line x1="468.5" y1="610.5" x2="468.5" y2="717.5"/>
<line x1="481.5" y1="610.5" x2="481.5" y2="717.5"/>
<line x1="494.5" y1="610.5" x2="494.5" y2="717.5"/>
<line x1="507.5" y1="610.5" x2="507.5" y2="717.5"/>
<line x1="520.5" y1="610.5" x2="520.5" y2="717.5"/>
<line x1="533.5" y1="610.5" x2="533.5" y2="717.5"/>
<line x1="546.5" y1="610.5" x2="546.5" y2="717.5"/>
<line x1="559.5" y1="610.5" x2="559.5" y2="717.5"/>
<line x1="571.5" y1="610.5" x2="571.5" y2="717.5"/>
<line x1="584.5" y1="610.5" x2="584.5" y2="717.5"/>
<line x1="597.5" y1="610.5" x2="597.5" y2="717.5"/>
<line x1="610.5" y1="610.5" x2="610.5" y2="717.5"/>
<line x1="623.5" y1="610.5" x2="623.5" y2="717.5"/>
<line x1="636.5" y1="610.5" x2="636.5" y2="717.5"/>
<line x1="649.5" y1="610.5" x2="649.5" y2="717.5"/>
<line x1="662.5" y1="610.5" x2="662.5" y2="717.5"/>
<line x1="674.5" y1="610.5" x2="674.5" y2="717.5"/>
<line x1="687.5" y1="610.5" x2="687.5" y2="717.5"/>
<line x1="700.5" y1="610.5" x2="700.5" y2="717.5"/>
<line x1="713.5" y1="610.5" x2="713.5" y2="717.5"/>
<line x1="726.5" y1="610.5" x2="726.5" y2="717.5"/>
<line x1="739.5" y1="610.5" x2="739.5" y2="717.5"/>
<line x1="752.5" y1="610.5" x2="752.5" y2="717.5"/>
<line x1="764.5" y1="610.5" x2="764.5" y2="717.5"/>
<line x1="777.5" y1="610.5" x2="777.5" y2="717.5"/>
<line x1="790.5" y1="610.5" x2="790.5" y2="717.5"/>
<line x1="803.5" y1="610.5" x2="803.5" y2="717.5"/>
<line x1="816.5" y1="610.5" x2="816.5" y2="717.5"/>
</g><g stroke="#e3e3e3">
<line x1="12" y1="632.5" x2="822.5" y2="632.5"/>
<line x1="12" y1="653.5" x2="822.5" y2="653.5"/>
<line x1="12" y1="674.5" x2="822.5" y2="674.5"/>
<line x1="12" y1="696.5" x2="822.5" y2="696.5"/>
</g>
<rect x="11.5" y="610.5" width="811.0" height="107.0" stroke="#dedede"/>
</g>
<polyline points="18.5,707.4 31.5,708.2 44.5,706.4 57.5,701.6 69.5,693.6 82.5,686.1 95.5,682.3 108.5,682.8 121.5,681.6 134.5,681.3 147.5,679.8 160.5,676.1 172.5,666.8 185.5,649.7 198.5,636.7 211.5,633.2 224.5,642.7 237.5,657.7 250.5,676.3 263.5,689.8 275.5,696.4 288.5,693.9 301.5,689.8 314.5,687.3 327.5,688.6 340.5,691.1 353.5,687.8 366.5,681.1 378.5,671.3 391.5,664.0 404.5,655.5 417.5,645.7 430.5,634.4 443.5,626.4 456.5,623.9 468.5,631.6 481.5,643.9 494.5,655.5 507.5,658.5 520.5,660.2 533.5,665.3 546.5,676.3 559.5,679.8 571.5,674.0 584.5,662.8 597.5,656.5 610.5,657.5 623.5,660.0 636.5,662.0 649.5,662.3 662.5,663.5 674.5,670.5 687.5,681.1 700.5,693.4 713.5,703.1 726.5,706.2 739.5,706.7 752.5,703.4 764.5,704.1 777.5,703.1 790.5,702.4 803.5,697.9 816.5,689.3" fill="none" stroke="#7c7c20" stroke-width="1.0" stroke-linejoin="round"/>
<polyline points="18.5,706.7 31.5,707.7 44.5,705.4 57.5,691.9 69.5,683.8 82.5,681.6 95.5,680.3 108.5,685.6 121.5,679.1 134.5,679.6 147.5,680.3 160.5,668.3 172.5,651.2 185.5,628.6 198.5,629.4 211.5,641.5 224.5,656.5 237.5,674.8 250.5,693.9 263.5,698.4 275.5,696.1 288.5,687.6 301.5,685.3 314.5,689.6 327.5,691.1 340.5,691.4 353.5,678.8 366.5,671.8 378.5,663.8 391.5,656.7 404.5,646.7 417.5,634.7 430.5,622.4 443.5,621.6 456.5,627.6 468.5,645.7 481.5,658.7 494.5,662.3 507.5,655.0 520.5,663.8 533.5,677.1 546.5,688.3 559.5,673.8 571.5,659.5 584.5,655.2 597.5,655.2 610.5,662.3 623.5,663.3 636.5,661.0 649.5,663.3 662.5,666.8 674.5,681.6 687.5,695.4 700.5,704.1 713.5,709.9 726.5,704.4 739.5,705.4 752.5,700.6 764.5,706.2 777.5,702.6 790.5,698.6 803.5,691.1 816.5,677.3" fill="none" stroke="#207c7c" stroke-width="1.0" stroke-linejoin="round"/>
<rect x="12.6" y="9.8" width="6" height="6" fill="#3cec3f" stroke="#1a1a1a" stroke-width="1"/>
<text x="21.6" y="16.1" textLength="63.2" lengthAdjust="spacing">Covestro (Xetra)</text>
<rect x="12.6" y="380.8" width="6" height="6" fill="#66d966" stroke="#1a1a1a" stroke-width="1"/>
<text x="21.6" y="387.1" textLength="103" lengthAdjust="spacing">Covestro Volumen in Euro</text>
<rect x="12.4" y="467.45" width="6" height="5.5" fill="#0000ee" stroke="#00005a" stroke-width="1"/>
<text x="21.1" y="473.1" textLength="91.9" lengthAdjust="spacing">MACD (26, 12): -1,1845</text>
<rect x="132.6" y="467.45" width="6" height="5.5" fill="#ff00ee" stroke="#4a0046" stroke-width="1"/>
<text x="141.4" y="473.1" textLength="64.5" lengthAdjust="spacing">EXP (9): -1,1348</text>
<rect x="225.3" y="467.45" width="6" height="5.5" fill="#008000" stroke="#002a00" stroke-width="1"/>
<text x="234.6" y="473.1" textLength="84" lengthAdjust="spacing">Divergence: -0,04971</text>
<rect x="12.6" y="598.2" width="6" height="5.6" fill="#006666" stroke="#002222" stroke-width="1"/>
<text x="21.7" y="604.3" textLength="128" lengthAdjust="spacing">Slow Stochastic %K (14): 37,519</text>
<rect x="169.4" y="598.2" width="6" height="5.6" fill="#666600" stroke="#222200" stroke-width="1"/>
<text x="178.3" y="604.3" textLength="59.6" lengthAdjust="spacing">%D (3): 26,585</text>
<text x="825" y="47.2">82</text>
<text x="825" y="71.5">81</text>
<text x="825" y="96.9">80</text>
<text x="825" y="121.8">79</text>
<text x="825" y="146.8">78</text>
<text x="825" y="171.5">77</text>
<text x="825" y="197.2">76</text>
<text x="825" y="224.2">75</text>
<text x="825" y="251.4">74</text>
<text x="825" y="277.9">73</text>
<text x="825" y="305.5">72</text>
<text x="825" y="333.8">71</text>
<text x="825" y="396.0" textLength="21.8" lengthAdjust="spacing">400M</text>
<text x="825" y="411.5" textLength="21.8" lengthAdjust="spacing">300M</text>
<text x="825" y="427.0" textLength="21.8" lengthAdjust="spacing">200M</text>
<text x="825" y="442.6" textLength="21.8" lengthAdjust="spacing">100M</text>
<text x="825" y="458.6" textLength="11.6" lengthAdjust="spacing">0M</text>
<text x="825" y="482.2">1</text>
<text x="825" y="508.9">0</text>
<text x="825" y="535.5">-1</text>
<text x="825" y="562.2">-2</text>
<text x="825" y="589.1">-3</text>
<text x="825" y="613.1">100</text>
<text x="825" y="635.0">80</text>
<text x="825" y="656.6">60</text>
<text x="825" y="677.9">40</text>
<text x="825" y="699.3">20</text>
<text x="825" y="720.2">0</text>
<g text-anchor="middle">
<text x="31.5" y="360.2">03.</text>
<text x="69.5" y="360.2">06.</text>
<text x="108.5" y="360.2">11.</text>
<text x="147.5" y="360.2">16.</text>
<text x="185.5" y="360.2">19.</text>
<text x="224.5" y="360.2">24.</text>
<text x="288.5" y="360.2">02.</text>
<text x="327.5" y="360.2">07.</text>
<text x="366.5" y="360.2">10.</text>
<text x="404.5" y="360.2">15.</text>
<text x="443.5" y="360.2">18.</text>
<text x="481.5" y="360.2">24.</text>
<text x="520.5" y="360.2">29.</text>
<text x="559.5" y="360.2">01.</text>
<text x="597.5" y="360.2">06.</text>
<text x="636.5" y="360.2">11.</text>
<text x="674.5" y="360.2">14.</text>
<text x="713.5" y="360.2">19.</text>
<text x="752.5" y="360.2">22.</text>
<text x="790.5" y="360.2">27.</text>
<text x="31.2" y="370.0" letter-spacing="-0.17">April</text>
<text x="288.2" y="370.0" letter-spacing="-0.17">Mai</text>
<text x="559.2" y="370.0" letter-spacing="-0.17">Juni</text>
</g>
</svg>
</body></html>
